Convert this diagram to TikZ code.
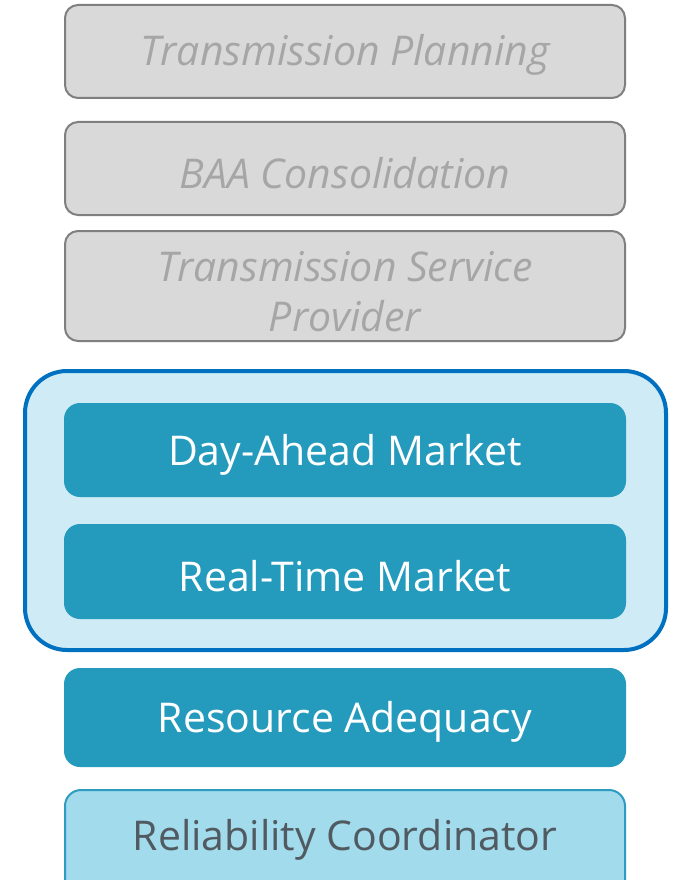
\documentclass[tikz,border=0pt]{standalone}
\usepackage{fontspec}
\setmainfont{Open Sans}
\definecolor{grayfill}{HTML}{D9D9D9}
\definecolor{grayline}{HTML}{7F7F7F}
\definecolor{graytext}{HTML}{A6A6A6}
\definecolor{teal}{HTML}{249ABD}
\definecolor{lightblue}{HTML}{CFEBF5}
\definecolor{frameblue}{HTML}{0070C0}
\definecolor{rcfill}{HTML}{A1DBEC}
\definecolor{rcline}{HTML}{2E9BC0}
\definecolor{rctext}{HTML}{505A60}
\begin{document}
\begin{tikzpicture}[x=1pt,y=-1pt,
  graybox/.style={draw=grayline,line width=2pt,fill=grayfill,rounded corners=13pt},
  tealbox/.style={fill=teal,rounded corners=16pt},
  graylabel/.style={text=graytext,font=\fontsize{41}{50}\selectfont\itshape,align=center},
  whitelabel/.style={text=white,font=\fontsize{41}{50}\selectfont},
]
\clip (0,0) rectangle (677,880);
\useasboundingbox (0,0) rectangle (677,880);
\fill[white] (0,0) rectangle (677,880);
% gray boxes
\draw[graybox] (65,5) rectangle (625,98);
\node[graylabel] (tp) at (345,55) {Transmission Planning};
\draw[graybox] (65,122) rectangle (625,215);
\node[graylabel] (baa) at (345,173) {BAA Consolidation};
\draw[graybox] (65,231) rectangle (625,341);
\node[graylabel] (tsp) at (345,292) {Transmission Service\\Provider};
% container
\draw[draw=frameblue,line width=4pt,fill=lightblue,rounded corners=42pt] (25,371) rectangle (666,650);
\fill[tealbox] (64,403) rectangle (626,497);
\node[whitelabel] (dam) at (345,455) {Day-Ahead Market};
\fill[tealbox] (64,524) rectangle (626,619);
\node[whitelabel] (rtm) at (345,576) {Real-Time Market};
% RA
\fill[tealbox] (64,668) rectangle (626,767);
\node[whitelabel] (ra) at (345,722) {Resource Adequacy};
% RC
\draw[draw=rcline,line width=2pt,fill=rcfill,rounded corners=16pt] (65,790) rectangle (625,900);
\node[text=rctext,font=\fontsize{41}{50}\selectfont] (rc) at (345,840) {Reliability Coordinator};
\end{tikzpicture}
\end{document}
